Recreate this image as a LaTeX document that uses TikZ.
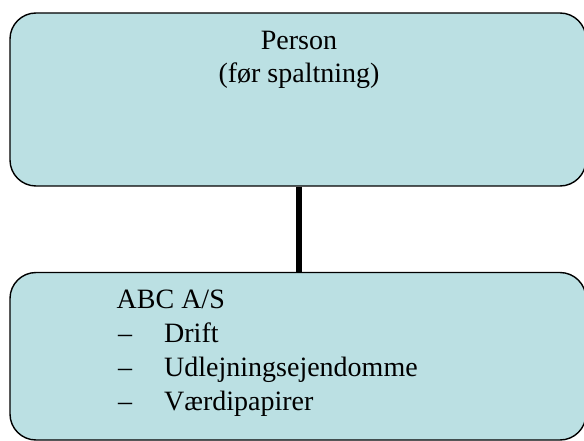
\documentclass[tikz,border=0pt]{standalone}
\usepackage{fontspec}
\setmainfont{Liberation Serif}
\definecolor{boxfill}{RGB}{187,224,227}
\begin{document}
\begin{tikzpicture}[x=1pt,y=-1pt,
  box/.style={draw=black,line width=1.4pt,fill=boxfill,rounded corners=26pt,inner sep=0pt},
  txt/.style={font=\fontsize{28}{33.5}\selectfont,inner sep=0pt},
  link/.style={line width=5.5pt,draw=black}]
\useasboundingbox (0,0) rectangle (584,441);
\clip (0,0) rectangle (584,441);
\node[box,minimum width=576pt,minimum height=173pt] (top) at (298,99.5) {};
\node[box,minimum width=576pt,minimum height=167.5pt] (bot) at (298,356.25) {};
\draw[link] (top.south -| 299,0) -- (bot.north -| 299,0);
\node[txt,anchor=base] (t1) at (299,50) {Person};
\node[txt,anchor=base] (t2) at (299,82.3) {(før spaltning)};
\node[txt,anchor=base west] (b0) at (116.5,308.3) {ABC A/S};
\node[txt,anchor=base west] (d1) at (118,342.7) {–};
\node[txt,anchor=base west] (b1) at (164,342.7) {Drift};
\node[txt,anchor=base west] (d2) at (118,376.7) {–};
\node[txt,anchor=base west] (b2) at (164,376.7) {Udlejningsejendomme};
\node[txt,anchor=base west] (d3) at (118,410.5) {–};
\node[txt,anchor=base west] (b3) at (164,410.5) {Værdipapirer};
\end{tikzpicture}
\end{document}
